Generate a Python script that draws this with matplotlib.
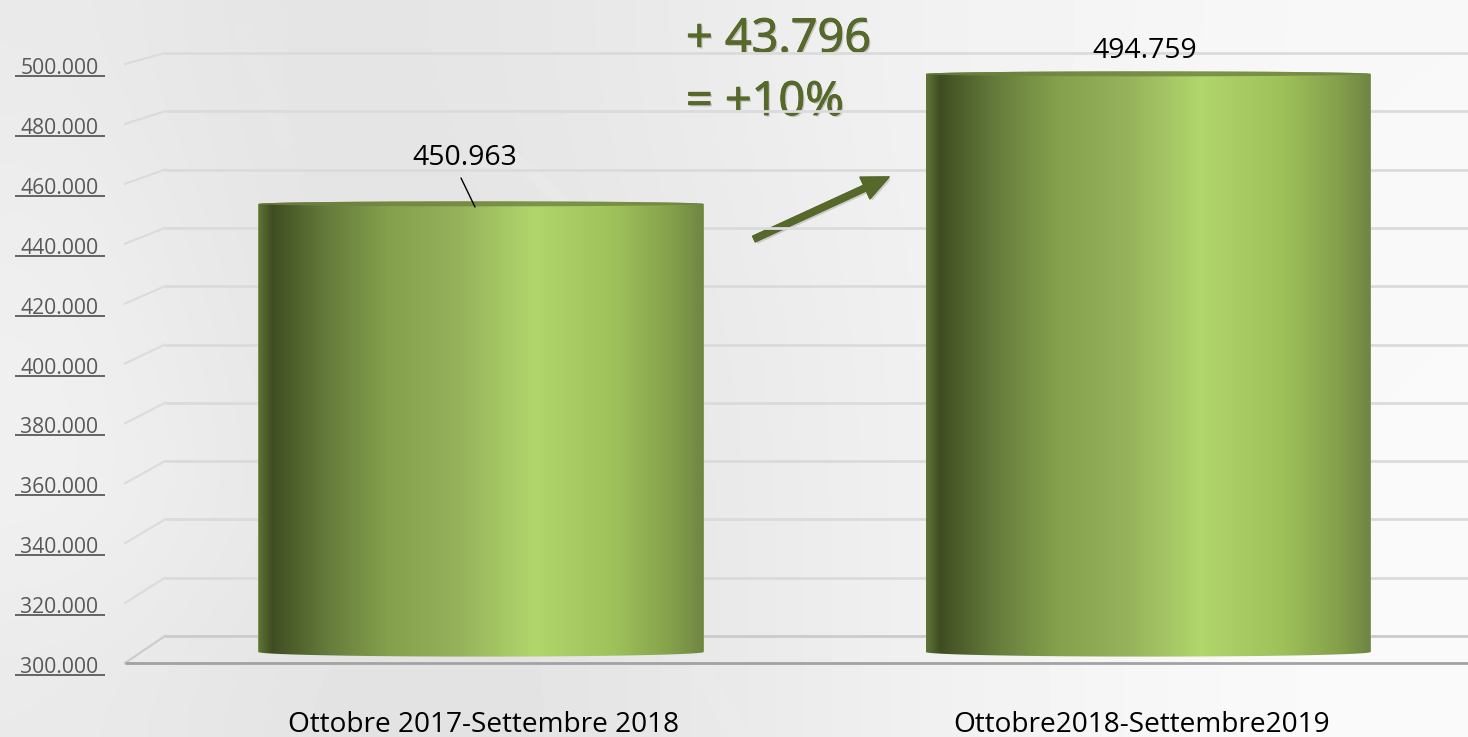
import numpy as np
import matplotlib
matplotlib.use("Agg")
import matplotlib.pyplot as plt
from matplotlib.colors import LinearSegmentedColormap
from matplotlib.patches import Polygon
from matplotlib.transforms import Affine2D
import matplotlib.patheffects as pe

# ---- data
categories = ["Ottobre 2017-Settembre 2018", "Ottobre2018-Settembre2019"]
values = [450963, 494759]
value_labels = ["450.963", "494.759"]
y_ticks = [300000, 320000, 340000, 360000, 380000, 400000, 420000, 440000, 460000, 480000, 500000]
y_tick_labels = ["300.000", "320.000", "340.000", "360.000", "380.000", "400.000",
                 "420.000", "440.000", "460.000", "480.000", "500.000"]
delta_lines = ["+ 43.796", "= +10%"]

W, H = 1468, 737
plt.rcParams["font.family"] = ["Open Sans", "DejaVu Sans"]
fig = plt.figure(figsize=(W / 100, H / 100), dpi=100)

# ---- background
bg_rows = np.array([
    [0xea, 0xe4, 0xe5, 0xe9, 0xef, 0xf3, 0xf6, 0xf8],
    [0xee, 0xe4, 0xe4, 0xe8, 0xee, 0xf3, 0xf7, 0xf9],
    [0xf0, 0xe6, 0xe3, 0xe7, 0xed, 0xf3, 0xf7, 0xf9],
    [0xf1, 0xe8, 0xe3, 0xe6, 0xed, 0xf3, 0xf8, 0xfa],
    [0xea, 0xe4, 0xe2, 0xe6, 0xed, 0xf3, 0xf8, 0xfa],
], dtype=float) / 255
bg = fig.add_axes([0, 0, 1, 1], zorder=-1)
bg.imshow(bg_rows, cmap="gray", vmin=0, vmax=1, aspect="auto",
          interpolation="bicubic", extent=(0, W, H, 0))
for (xa, ya, xb, yb, lw, al) in [(243, 30, 285, 140, 12, .07), (505, 150, 560, 200, 10, .10),
                                 (700, 670, 740, 737, 14, .08)]:
    bg.plot([xa, xb], [ya, yb], color="white", lw=lw, alpha=al, solid_capstyle="round")
bg.set_xlim(0, W)
bg.set_ylim(H, 0)
bg.axis("off")

# ---- main axes: the front plane of the 3-D box
AX_L, AX_R, AX_B, AX_T = 125, W, 663, 64
ax = fig.add_axes([AX_L / W, 1 - AX_B / H, (AX_R - AX_L) / W, (AX_B - AX_T) / H])
ax.patch.set_alpha(0)
C0, C_STEP = 481, 667
px = lambda x: (x - C0) / C_STEP
xlim = (px(AX_L), px(AX_R))
ylim = (y_ticks[0], y_ticks[-1])
FRONT_SLOPE = (AX_B - AX_T) / (ylim[1] - ylim[0])


def plane(v, floor_px, slope):
    """Value on a plane deeper in the box, expressed on the front-plane scale."""
    y_px = floor_px - (np.asarray(v, dtype=float) - ylim[0]) * slope
    return ylim[0] + (AX_B - y_px) / FRONT_SLOPE


BACK = (636, 583 / 200000)
BAR = (652, 2.968 / 1000)

# gridlines and box side
for i, v in enumerate(y_ticks):
    col = "#cbcbcb" if i == 0 else "#dbdbdb"
    ax.plot([px(165), px(W)], [plane(v, *BACK)] * 2, color=col, lw=2.0, zorder=2,
            solid_capstyle="butt", clip_on=False)
    ax.plot([px(125), px(165)], [v, plane(v, *BACK)], color=col, lw=1.5, zorder=2, clip_on=False)
ax.plot([px(125), px(W)], [ylim[0]] * 2, color="#a2a2a2", lw=2.0, zorder=2.5, clip_on=False,
        solid_capstyle="butt")

# ---- cylinders
stops = [(0, "#5d7436"), (.03, "#3f4c22"), (.06, "#495927"), (.15, "#647a3b"), (.29, "#84a04c"),
         (.45, "#96b25b"), (.62, "#b1d66c"), (.8, "#9fc15a"), (.93, "#84a04b"), (1, "#6f8543")]
cmap = LinearSegmentedColormap.from_list("cyl", stops)
grad = np.linspace(0, 1, 512)[None, :]
BAR_W = 445 / C_STEP
t = np.linspace(0, np.pi, 100)
bars = ax.bar(range(len(values)), [plane(v, *BAR) - plane(ylim[0], *BAR) for v in values],
              bottom=plane(ylim[0], *BAR), width=BAR_W, color="#96b25b", zorder=3)
for i, v in enumerate(values):
    x0, x1 = i - BAR_W / 2, i + BAR_W / 2
    xs = i + BAR_W / 2 * np.cos(t)
    top = plane(v, *BAR)
    low = plane(ylim[0], *BAR)
    up_arc = top + 2.6 / FRONT_SLOPE * np.sin(t)
    dn_arc = top - 2.4 / FRONT_SLOPE * np.sin(t)
    bot_arc = low - 4.6 / FRONT_SLOPE * np.sin(t)
    body = np.column_stack([np.r_[xs, xs[::-1]], np.r_[up_arc, bot_arc[::-1]]])
    patch = Polygon(body, closed=True, transform=ax.transData, fc="none", ec="none")
    ax.add_patch(patch)
    im = ax.imshow(grad, cmap=cmap, aspect="auto", extent=(x0, x1, low - 6 / FRONT_SLOPE, top + 4 / FRONT_SLOPE),
                   zorder=3.1, interpolation="bilinear", vmin=0, vmax=1)
    im.set_clip_path(patch)
    cap = np.column_stack([np.r_[xs, xs[::-1]], np.r_[up_arc, dn_arc[::-1]]])
    ax.add_patch(Polygon(cap, closed=True, fc="#6f8240", ec="none", alpha=.8, zorder=3.2))

# ---- labels
ax.set_xlim(*xlim)
ax.set_ylim(*ylim)
ax.set_yticks(y_ticks, y_tick_labels, fontsize=15.2, color="#595959")
ax.set_xticks([px(484), px(1142)], categories, fontsize=20.2, color="black")
ax.tick_params(axis="y", length=0, pad=19)
ax.tick_params(axis="x", length=0, pad=34.5)
for s in ax.spines.values():
    s.set_visible(False)
for lab in ax.get_yticklabels():
    lab.set_transform(lab.get_transform() + Affine2D().translate(0, -2))

shift = ax.transData + Affine2D().translate(0, -12)
for v in y_ticks:
    ax.plot([px(15), px(105)], [v, v], color="#595959", lw=1.3, transform=shift, clip_on=False,
            solid_capstyle="butt")

LABEL_PX = [(465, 158), (1145, 51)]
for (lx, ly), lab in zip(LABEL_PX, value_labels):
    ax.annotate(lab, xy=(lx, H - ly), xycoords="figure pixels", ha="center", va="center",
                fontsize=20.4, color="black", zorder=6)
ax.annotate("", xy=(475, H - 207), xytext=(461, H - 178), xycoords="figure pixels",
            textcoords="figure pixels", arrowprops=dict(arrowstyle="-", color="black", lw=1.0,
                                                        shrinkA=0, shrinkB=0), zorder=6)

shadow = [pe.withSimplePatchShadow(offset=(1.2, -1.2), shadow_rgbFace="#666666", alpha=.3),
          pe.withStroke(linewidth=0.7, foreground="#56692a")]
for (lx, ly), txt in zip([(686, 52), (686, 115)], delta_lines):
    ax.annotate(txt, xy=(lx, H - ly), xycoords="figure pixels", ha="left", va="baseline",
                fontsize=33.7, color="#56692a", zorder=1, path_effects=shadow)
ax.annotate("", xy=(889, H - 177), xytext=(754, H - 239), xycoords="figure pixels",
            textcoords="figure pixels", zorder=1,
            arrowprops=dict(width=4.4, headwidth=17, headlength=19, color="#56692a", shrink=0,
                            path_effects=[pe.withSimplePatchShadow(offset=(1.5, -1.5), shadow_rgbFace="#777777", alpha=.3),
                                          pe.Normal()]))

fig.savefig("out.png", dpi=100)
